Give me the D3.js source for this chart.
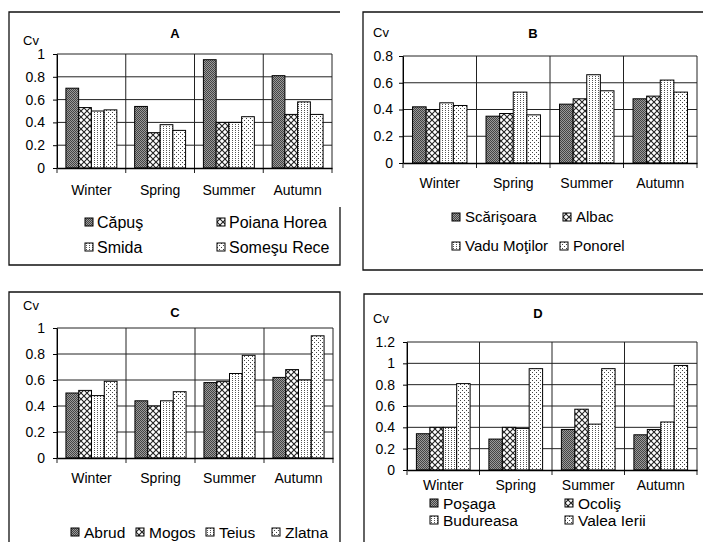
<!DOCTYPE html>
<html>
<head>
<meta charset="utf-8">
<script src="https://cdn.jsdelivr.net/npm/d3@7"></script>
<style>
  body { margin: 0; background: #fff; }
  svg { display: block; font-family: "Liberation Sans", Arial, sans-serif; }
</style>
</head>
<body>
<svg id="chart" width="703" height="542"></svg>
<script>
const seasons = ['Winter', 'Spring', 'Summer', 'Autumn'];

// panel A
const seriesA = ['Căpuş', 'Poiana Horea', 'Smida', 'Someşu Rece'];
const valuesA = [
  [0.70, 0.54, 0.95, 0.81],
  [0.53, 0.31, 0.40, 0.47],
  [0.50, 0.38, 0.40, 0.58],
  [0.51, 0.33, 0.45, 0.47],
];
const ticksA = [0, 0.2, 0.4, 0.6, 0.8, 1];

// panel B
const seriesB = ['Scărişoara', 'Albac', 'Vadu Moţilor', 'Ponorel'];
const valuesB = [
  [0.42, 0.35, 0.44, 0.48],
  [0.40, 0.37, 0.48, 0.50],
  [0.45, 0.53, 0.66, 0.62],
  [0.43, 0.36, 0.54, 0.53],
];
const ticksB = [0, 0.2, 0.4, 0.6, 0.8];

// panel C
const seriesC = ['Abrud', 'Mogos', 'Teius', 'Zlatna'];
const valuesC = [
  [0.50, 0.44, 0.58, 0.62],
  [0.52, 0.40, 0.59, 0.68],
  [0.48, 0.44, 0.65, 0.60],
  [0.59, 0.51, 0.79, 0.94],
];
const ticksC = [0, 0.2, 0.4, 0.6, 0.8, 1];

// panel D
const seriesD = ['Poşaga', 'Ocoliş', 'Budureasa', 'Valea Ierii'];
const valuesD = [
  [0.34, 0.29, 0.38, 0.33],
  [0.40, 0.40, 0.57, 0.38],
  [0.40, 0.39, 0.43, 0.45],
  [0.81, 0.95, 0.95, 0.98],
];
const ticksD = [0, 0.2, 0.4, 0.6, 0.8, 1, 1.2];

const svg = d3.select('#chart');
const defs = svg.append('defs');

// fill patterns, one per series position
const pat = (id, w, h) => defs.append('pattern')
  .attr('id', id).attr('patternUnits', 'userSpaceOnUse')
  .attr('width', w).attr('height', h);

const p1 = pat('p-dark', 2, 2);
p1.append('rect').attr('width', 2).attr('height', 2).attr('fill', '#9a9a9a');
p1.append('rect').attr('width', 1).attr('height', 1).attr('fill', '#444');
p1.append('rect').attr('x', 1).attr('y', 1).attr('width', 1).attr('height', 1).attr('fill', '#444');

const p2 = pat('p-cross', 6, 6);
p2.append('rect').attr('width', 6).attr('height', 6).attr('fill', '#fff');
p2.append('path').attr('d', 'M0,0L6,6M6,0L0,6').attr('stroke', '#222').attr('stroke-width', 1.1);

const p3 = pat('p-dots', 3, 2);
p3.append('rect').attr('width', 3).attr('height', 2).attr('fill', '#fff');
p3.append('rect').attr('x', 1).attr('width', 1).attr('height', 1).attr('fill', '#555');

const p4 = pat('p-sparse', 4, 4);
p4.append('rect').attr('width', 4).attr('height', 4).attr('fill', '#fff');
p4.append('rect').attr('width', 1).attr('height', 1).attr('fill', '#444');
p4.append('rect').attr('x', 2).attr('y', 2).attr('width', 1).attr('height', 1).attr('fill', '#444');

const fills = ['url(#p-dark)', 'url(#p-cross)', 'url(#p-dots)', 'url(#p-sparse)'];

const panels = [
  {
    title: 'A', series: seriesA, values: valuesA, ticks: ticksA,
    left: 57, right: 332, top: 54, bottom: 168, labPad: 17, yPad: 8,
    titleX: 175, titleY: 33, cvX: 23, cvY: 40,
    frame: 'M340,207V265H9V12H340',
    legendSize: 16, legendDx: 12,
    legend: [[85, 222], [217, 222], [85, 247], [217, 247]],
  },
  {
    title: 'B', series: seriesB, values: valuesB, ticks: ticksB,
    left: 403, right: 697, top: 56, bottom: 163, labPad: 15, yPad: 6,
    titleX: 533, titleY: 33, cvX: 373, cvY: 32,
    frame: 'M703,12H363V270H703',
    legendSize: 15, legendDx: 13,
    legend: [[452, 217], [563, 217], [452, 246], [560, 246]],
  },
  {
    title: 'C', series: seriesC, values: valuesC, ticks: ticksC,
    left: 57, right: 333, top: 328, bottom: 458, labPad: 15, yPad: 8,
    titleX: 175, titleY: 312, cvX: 23, cvY: 305,
    frame: 'M9,542V292H340V542',
    legendSize: 15.5, legendDx: 13,
    legend: [[71, 532], [136, 532], [206, 532], [272, 532]],
  },
  {
    title: 'D', series: seriesD, values: valuesD, ticks: ticksD,
    left: 407, right: 697, top: 342, bottom: 470, labPad: 10, yPad: 8,
    titleX: 538, titleY: 313, cvX: 373, cvY: 318,
    frame: 'M364,542V294H703',
    legendSize: 15.5, legendDx: 13,
    legend: [[430, 503], [565, 503], [430, 520], [565, 520]],
  },
];

panels.forEach(drawPanel);

function drawPanel(p) {
  const g = svg.append('g');
  const yMax = p.ticks[p.ticks.length - 1];

  const x0 = d3.scaleBand().domain(seasons).range([p.left, p.right]);
  const x1 = d3.scaleBand().domain(p.series).range([0, x0.bandwidth()]).paddingOuter(0.7);
  const y = d3.scaleLinear().domain([0, yMax]).range([p.bottom, p.top]);

  g.append('path').attr('d', p.frame)
    .attr('fill', 'none').attr('stroke', '#111').attr('stroke-width', 1.3);

  // horizontal grid
  g.selectAll('.hgrid').data(p.ticks.filter((t) => t > 0)).join('line')
    .attr('x1', p.left).attr('x2', p.right)
    .attr('y1', (d) => y(d)).attr('y2', (d) => y(d))
    .attr('stroke', '#222').attr('stroke-width', 1);

  // category boundaries, with tick marks below the axis
  const bounds = seasons.map((s) => x0(s)).concat([p.right]);
  g.selectAll('.vgrid').data(bounds).join('line')
    .attr('x1', (d) => d).attr('x2', (d) => d)
    .attr('y1', p.top).attr('y2', p.bottom + 5)
    .attr('stroke', '#222').attr('stroke-width', 1);

  // bars
  p.series.forEach((name, i) => {
    g.selectAll(null).data(p.values[i]).join('rect')
      .attr('x', (d, j) => x0(seasons[j]) + x1(name))
      .attr('y', (d) => y(d))
      .attr('width', x1.bandwidth())
      .attr('height', (d) => y(0) - y(d))
      .attr('fill', fills[i])
      .attr('stroke', '#000').attr('stroke-width', 1);
  });

  // y axis
  const yAxis = g.append('g').attr('transform', `translate(${p.left},0)`)
    .call(d3.axisLeft(y).tickValues(p.ticks).tickSize(4).tickSizeOuter(0)
      .tickPadding(p.yPad).tickFormat((d) => String(d)));
  yAxis.selectAll('text').style('font-size', '14px').attr('fill', '#000');
  yAxis.selectAll('line, path').attr('stroke', '#000');

  // x axis
  const xAxis = g.append('g').attr('transform', `translate(0,${p.bottom})`)
    .call(d3.axisBottom(x0).tickSize(0).tickSizeOuter(0).tickPadding(p.labPad));
  xAxis.selectAll('text').style('font-size', '14px').attr('fill', '#000');
  xAxis.select('.domain').attr('stroke', '#000').attr('stroke-width', 1.3);

  g.append('text').attr('x', p.titleX).attr('y', p.titleY).attr('dy', '0.35em')
    .attr('text-anchor', 'middle').style('font-size', '13px').style('font-weight', 'bold')
    .text(p.title);

  g.append('text').attr('x', p.cvX).attr('y', p.cvY).attr('dy', '0.35em')
    .style('font-size', '13px').text('Cv');

  // legend
  const leg = g.selectAll('.leg').data(p.series).join('g')
    .attr('transform', (d, i) => `translate(${p.legend[i][0]},${p.legend[i][1]})`);
  leg.append('rect').attr('x', 0).attr('y', -4).attr('width', 8).attr('height', 8)
    .attr('fill', (d, i) => fills[i]).attr('stroke', '#000').attr('stroke-width', 1);
  leg.append('text').attr('x', p.legendDx).attr('dy', '0.36em')
    .style('font-size', `${p.legendSize}px`).text((d) => d);
}
</script>
</body>
</html>
